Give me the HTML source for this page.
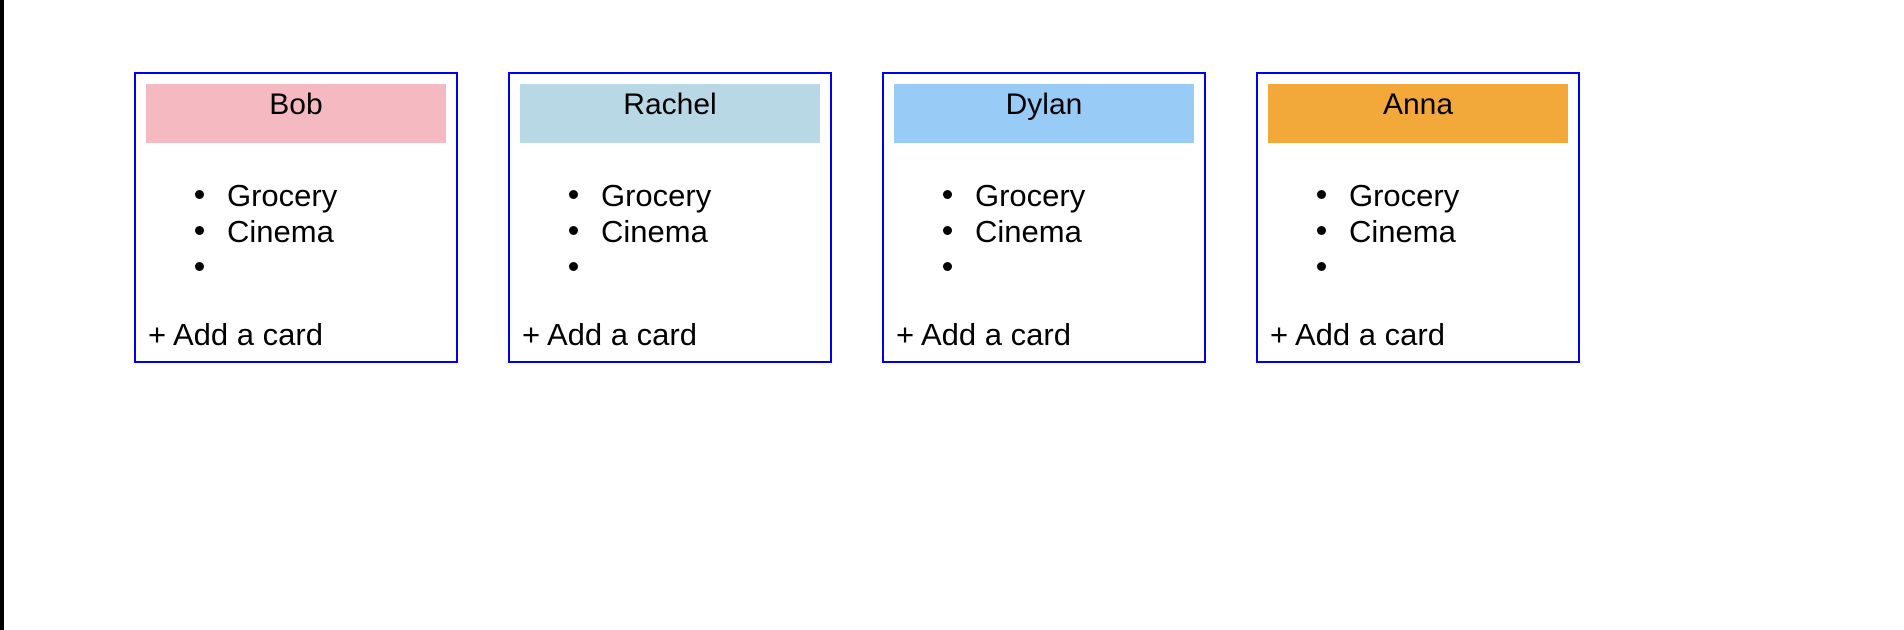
<!DOCTYPE html>
<html><head><style>
body{margin:0;width:1904px;height:630px;background:#fff;position:relative;overflow:hidden;font-family:"Liberation Sans",sans-serif;color:#000}
.bar{position:absolute;left:0;top:0;width:4px;height:630px;background:#000}
.card{position:absolute;top:72px;width:320px;height:287px;border:2px solid #0000ee}
.h{position:absolute;left:10px;top:10px;width:300px;height:59px;text-align:center;font-size:30px;line-height:34px}
.h span{position:relative;top:4px}
.li{position:absolute;left:91px;font-size:31px;line-height:34px}
.dot{position:absolute;left:59px;width:9px;height:9px;border-radius:50%;background:#000}
.add{position:absolute;left:12px;top:244px;font-size:31px;line-height:34px}
</style></head><body>
<div class="bar"></div>
<div class="card" style="left:134px"><div class="h" style="background:#f4b9c1"><span>Bob</span></div>
<div class="dot" style="top:116px"></div><div class="li" style="top:105px">Grocery</div>
<div class="dot" style="top:152px"></div><div class="li" style="top:141px">Cinema</div>
<div class="dot" style="top:188px"></div><div class="add">+ Add a card</div></div>
<div class="card" style="left:508px"><div class="h" style="background:#b7d8e4"><span>Rachel</span></div>
<div class="dot" style="top:116px"></div><div class="li" style="top:105px">Grocery</div>
<div class="dot" style="top:152px"></div><div class="li" style="top:141px">Cinema</div>
<div class="dot" style="top:188px"></div><div class="add">+ Add a card</div></div>
<div class="card" style="left:882px"><div class="h" style="background:#98cbf6"><span>Dylan</span></div>
<div class="dot" style="top:116px"></div><div class="li" style="top:105px">Grocery</div>
<div class="dot" style="top:152px"></div><div class="li" style="top:141px">Cinema</div>
<div class="dot" style="top:188px"></div><div class="add">+ Add a card</div></div>
<div class="card" style="left:1256px"><div class="h" style="background:#f3a83a"><span>Anna</span></div>
<div class="dot" style="top:116px"></div><div class="li" style="top:105px">Grocery</div>
<div class="dot" style="top:152px"></div><div class="li" style="top:141px">Cinema</div>
<div class="dot" style="top:188px"></div><div class="add">+ Add a card</div></div>
</body></html>
